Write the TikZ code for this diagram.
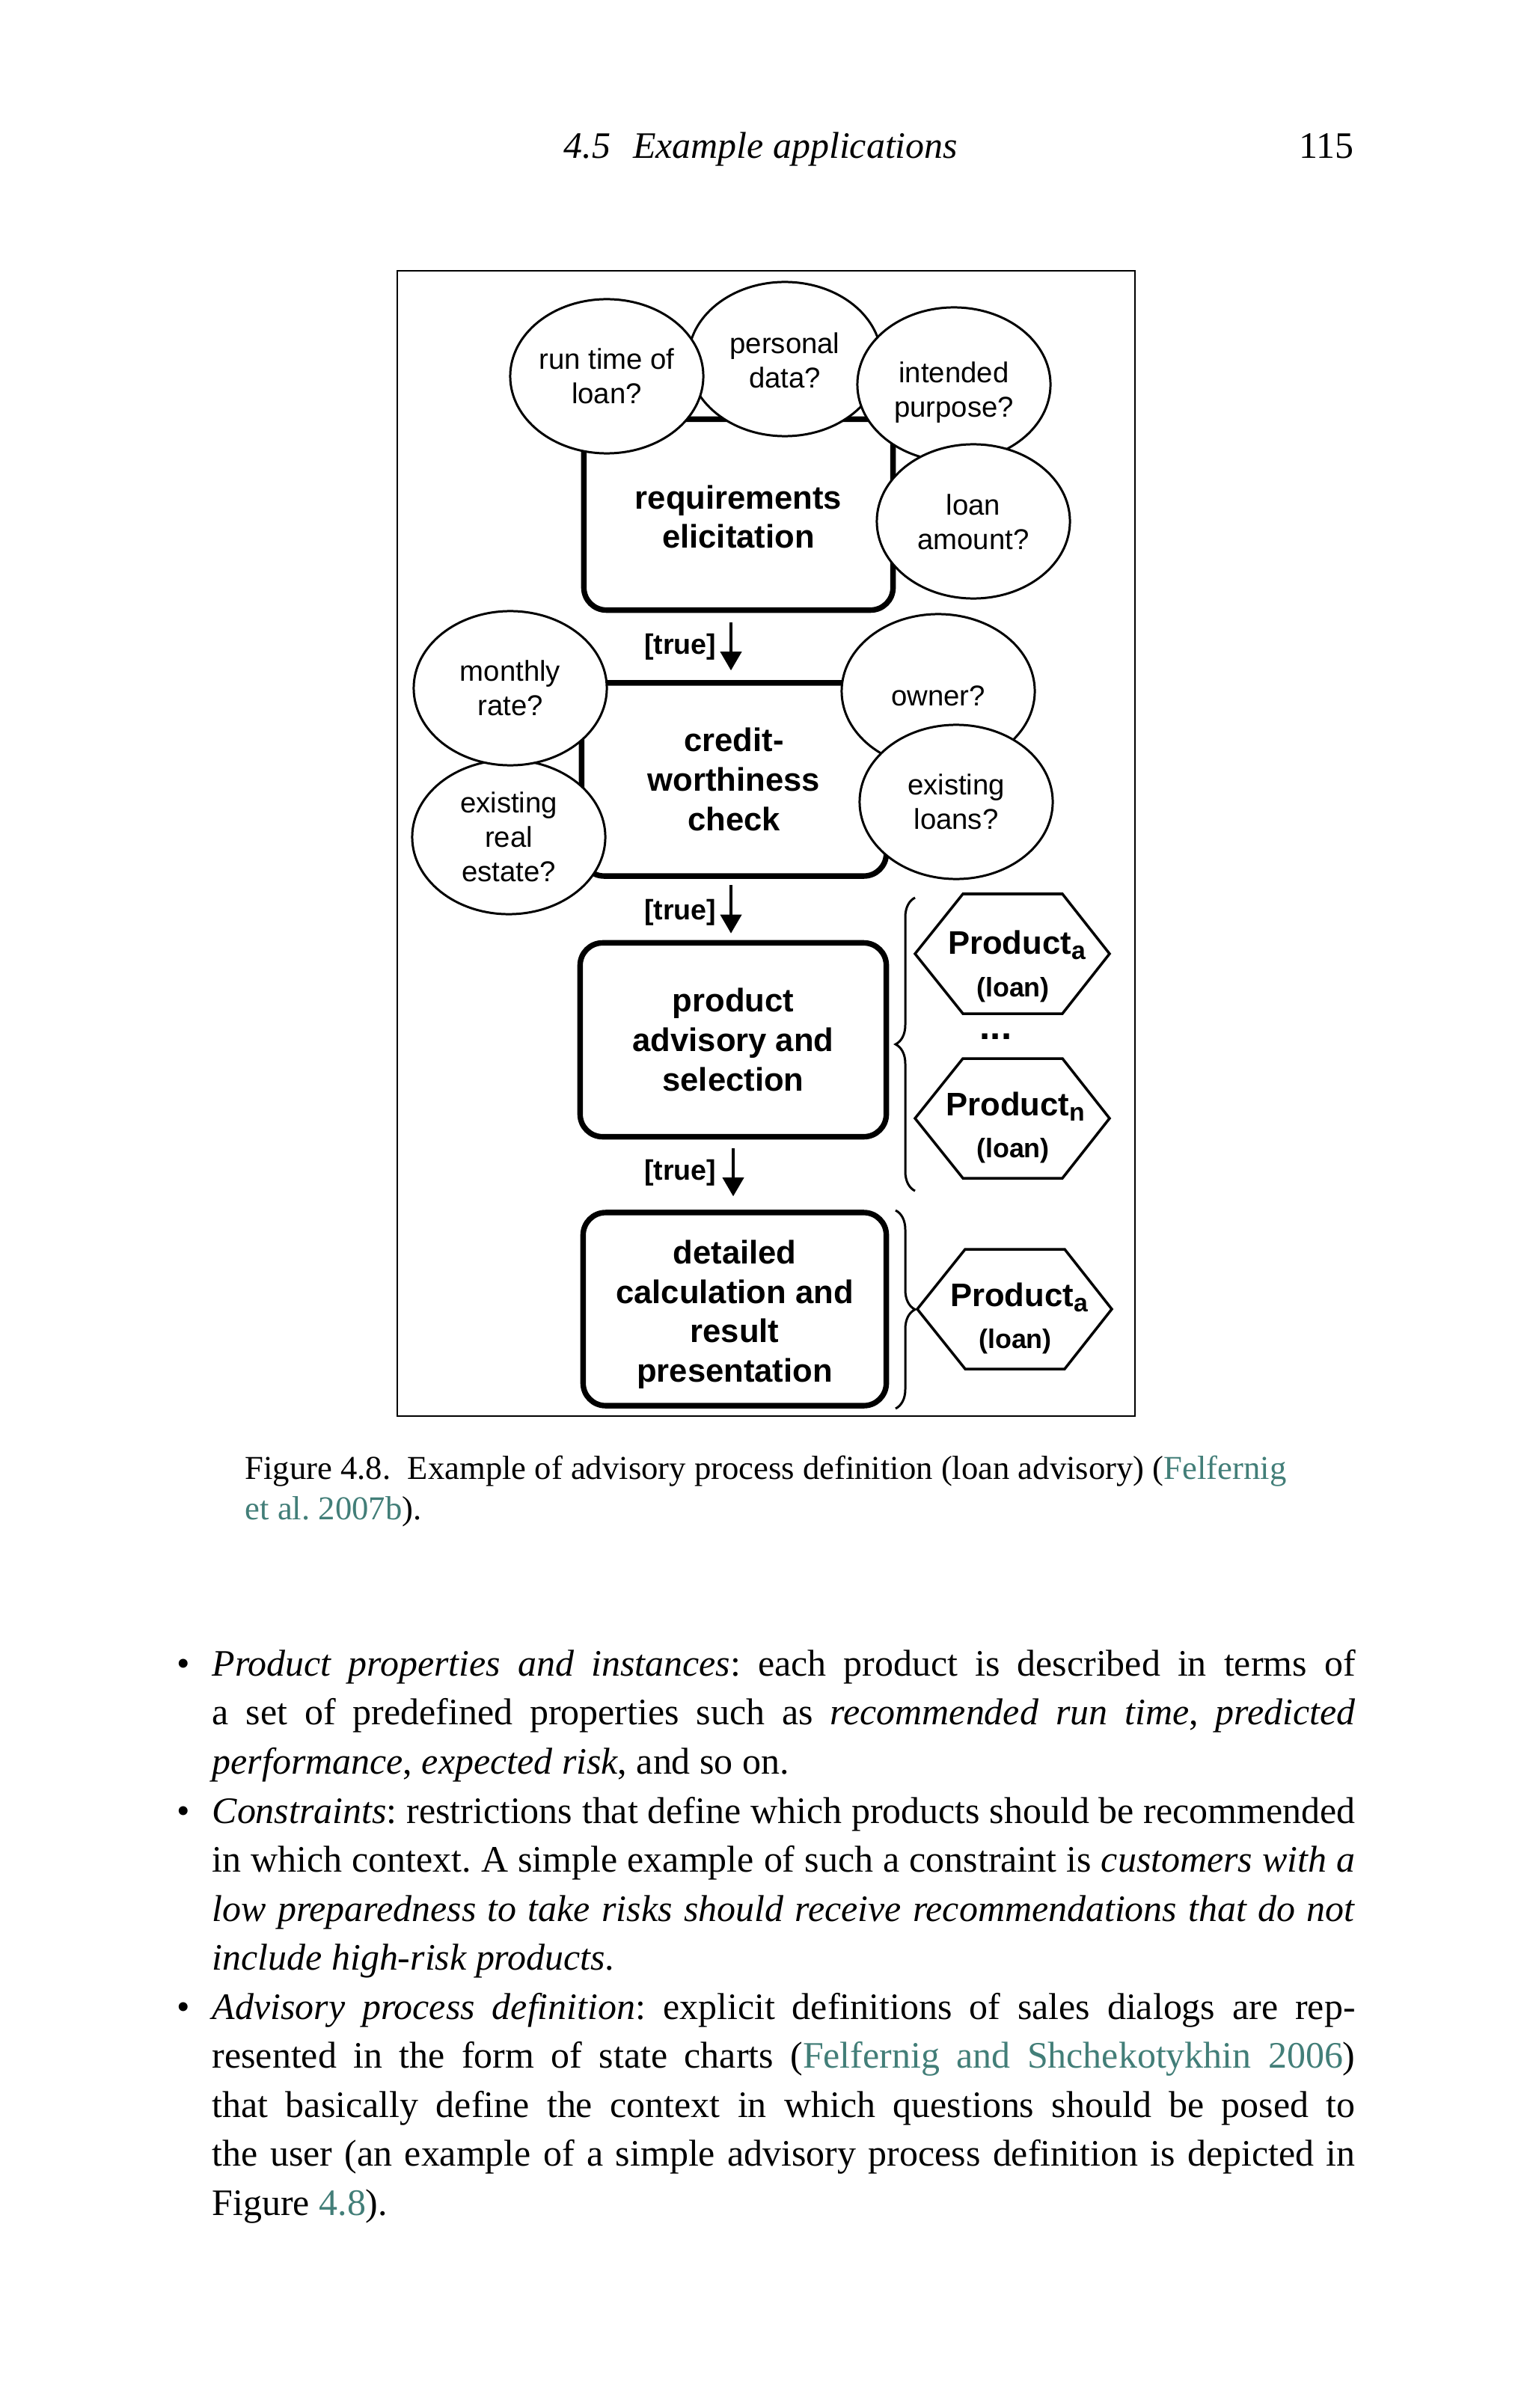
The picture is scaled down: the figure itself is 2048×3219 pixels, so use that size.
\documentclass[tikz,border=0pt]{standalone}
\usepackage{fontspec}
\setmainfont{Liberation Serif}
\newfontfamily\rkSans{Liberation Sans}
\usetikzlibrary{shapes.geometric,arrows.meta,decorations.pathreplacing}
\definecolor{rklink}{RGB}{66,126,120}
\frenchspacing
\newcommand\rkBody{\fontsize{14.2pt}{18.6pt}\selectfont}
\newcommand\rkCap{\fontsize{12.7pt}{14.2pt}\selectfont}
\newcommand\rkQ{\rkSans\fontsize{10.9pt}{13.1pt}\selectfont}
\newcommand\rkB{\rkSans\bfseries\fontsize{12.4pt}{15pt}\selectfont}
\newcommand\rkT{\rkSans\bfseries\fontsize{10.7pt}{12pt}\selectfont}
\newcommand\rkL{\rkSans\bfseries\fontsize{10.2pt}{12pt}\selectfont}
\newcommand\rkSub[1]{\raisebox{-0.07cm}{\fontsize{9.6pt}{10pt}\selectfont #1}}
\newcommand\rkLine[1]{\rkBody\makebox[15.27cm][s]{#1}}
\newcommand\rkShift[2]{\raisebox{#1}[\height][\depth]{\begin{tabular}{@{}c@{}}#2\end{tabular}}}
\begin{document}
\begin{tikzpicture}[x=0.01cm,y=-0.01cm,
  question/.style={ellipse, draw, line width=0.85pt, fill=white, minimum width=2.58cm,
    minimum height=2.06cm, inner sep=0pt, align=center, font=\rkQ},
  stage/.style={rectangle, rounded corners=0.3cm, draw, line width=2.1pt, fill=white,
    align=center, font=\rkB, inner sep=0pt},
  flow/.style={line width=1.1pt, -{Triangle[length=0.25cm,width=0.28cm]}},
  guard/.style={font=\rkT, anchor=east, inner sep=0pt},
  hexa/.style={line width=1pt, line join=miter},
  prodtxt/.style={font=\rkB, anchor=base, inner sep=0pt},
  loantxt/.style={font=\rkL, anchor=base, inner sep=0pt},
  brc/.style={decorate, decoration={brace, amplitude=0.26cm}, line width=0.85pt},
  txt/.style={anchor=base west, inner sep=0pt},
  hexpic/.pic={\draw[hexa] (-130,0) -- (-66,-80) -- (67,-80) -- (130,0) -- (67,80) -- (-66,80) -- cycle;}
]
\path[use as bounding box, fill=white] (0,0) rectangle (2048,3219);

% header
\node[txt] (hdr) at (753,212) {\rkBody\itshape 4.5\hspace{0.6em}Example applications};
\node[anchor=base east, inner sep=0pt] (pg) at (1810,212) {\rkBody 115};

% frame
\draw[line width=0.6pt] (531,362) rectangle (1517,1893);

% stages
\node[stage, minimum width=4.13cm, minimum height=2.55cm] (req) at (987,688) {\rkShift{-0.08cm}{requirements\\elicitation}};
\node[stage, minimum width=4.07cm, minimum height=2.58cm] (credit) at (981,1042) {credit-\\worthiness\\check};
\node[stage, minimum width=4.09cm, minimum height=2.59cm] (prod) at (980,1390) {product\\advisory and\\selection};
\node[stage, minimum width=4.05cm, minimum height=2.58cm] (calc) at (982,1750) {\rkShift{-0.08cm}{detailed\\calculation and\\result\\presentation}};

% flows
\coordinate (ax1) at (977,0);
\coordinate (ax3) at (980,0);
\draw[flow, shorten <=0.13cm, shorten >=0.13cm] (req.south -| ax1) -- (credit.north -| ax1);
\draw[flow, shorten <=0.08cm, shorten >=0.09cm] (credit.south -| ax1) -- (prod.north -| ax1);
\draw[flow, shorten <=0.12cm, shorten >=0.18cm] (prod.south -| ax3) -- (calc.north -| ax3);
\node[guard] (g1) at (958,865) {[true]};
\node[guard] (g2) at (958,1220) {[true]};
\node[guard] (g3) at (958,1568) {[true]};

% questions
\node[question] (pers) at (1049,480) {\rkShift{-0.06cm}{personal\\data?}};
\node[question] (run) at (811,503) {run time of\\loan?};
\node[question] (purp) at (1275,514) {\rkShift{-0.11cm}{intended\\purpose?}};
\node[question] (amt) at (1301,697) {\rkShift{-0.05cm}{loan\\amount?}};
\node[question] (estate) at (680,1119) {existing\\real\\estate?};
\node[question] (rate) at (682,920) {monthly\\rate?};
\node[question] (owner) at (1254,924) {\rkShift{-0.1cm}{owner?}};
\node[question] (loans) at (1278,1072) {existing\\loans?};

% braces
\draw[brc] (1223,1592) -- (1223,1200);
\draw[brc] (1197,1618) -- (1197,1883);

% products
\pic at (1353,1275) {hexpic};
\pic at (1353,1495) {hexpic};
\pic at (1356,1750) {hexpic};
\node[prodtxt] (pa) at (1359,1275) {Product\rkSub{a}};
\node[loantxt] (la) at (1354,1332) {(loan)};
\node[prodtxt, font=\rkSans\bfseries\fontsize{14.5pt}{15pt}\selectfont] (dots) at (1331,1389) {...};
\node[prodtxt] (pn) at (1357,1491) {Product\rkSub{n}};
\node[loantxt] (ln) at (1354,1547) {(loan)};
\node[prodtxt] (pa2) at (1362,1746) {Product\rkSub{a}};
\node[loantxt] (la2) at (1357,1802) {(loan)};

% caption
\node[txt] (cap1) at (327,1977) {\rkCap Figure 4.8.\hspace{0.5em}Example of advisory process definition (loan advisory) (\textcolor{rklink}{Felfernig}};
\node[txt] (cap2) at (327,2031) {\rkCap\textcolor{rklink}{et al. 2007b}).};

% body
\node[anchor=base, inner sep=0pt] (b1) at (245,2240) {\rkBody\textbullet};
\node[anchor=base, inner sep=0pt] (b2) at (245,2437) {\rkBody\textbullet};
\node[anchor=base, inner sep=0pt] (b3) at (245,2699) {\rkBody\textbullet};
\node[txt] (l1) at (283,2240) {\rkLine{\textit{Product properties and instances}: each product is described in terms of}};
\node[txt] (l2) at (283,2305) {\rkLine{a set of predefined properties such as \textit{recommended run time}, \textit{predicted}}};
\node[txt] (l3) at (283,2371) {\rkBody\textit{performance}, \textit{expected risk}, and so on.};
\node[txt] (l4) at (283,2437) {\rkLine{\textit{Constraints}: restrictions that define which products should be recommended}};
\node[txt] (l5) at (283,2502) {\rkLine{in which context. A simple example of such a constraint is \textit{customers with a}}};
\node[txt] (l6) at (283,2568) {\rkLine{\textit{low preparedness to take risks should receive recommendations that do not}}};
\node[txt] (l7) at (283,2633) {\rkBody\textit{include high-risk products}.};
\node[txt] (l8) at (283,2699) {\rkLine{\textit{Advisory process definition}: explicit definitions of sales dialogs are rep-}};
\node[txt] (l9) at (283,2764) {\rkLine{resented in the form of state charts (\textcolor{rklink}{Felfernig and Shchekotykhin 2006})}};
\node[txt] (l10) at (283,2830) {\rkLine{that basically define the context in which questions should be posed to}};
\node[txt] (l11) at (283,2895) {\rkLine{the user (an example of a simple advisory process definition is depicted in}};
\node[txt] (l12) at (283,2961) {\rkBody Figure \textcolor{rklink}{4.8}).};
\end{tikzpicture}
\end{document}
